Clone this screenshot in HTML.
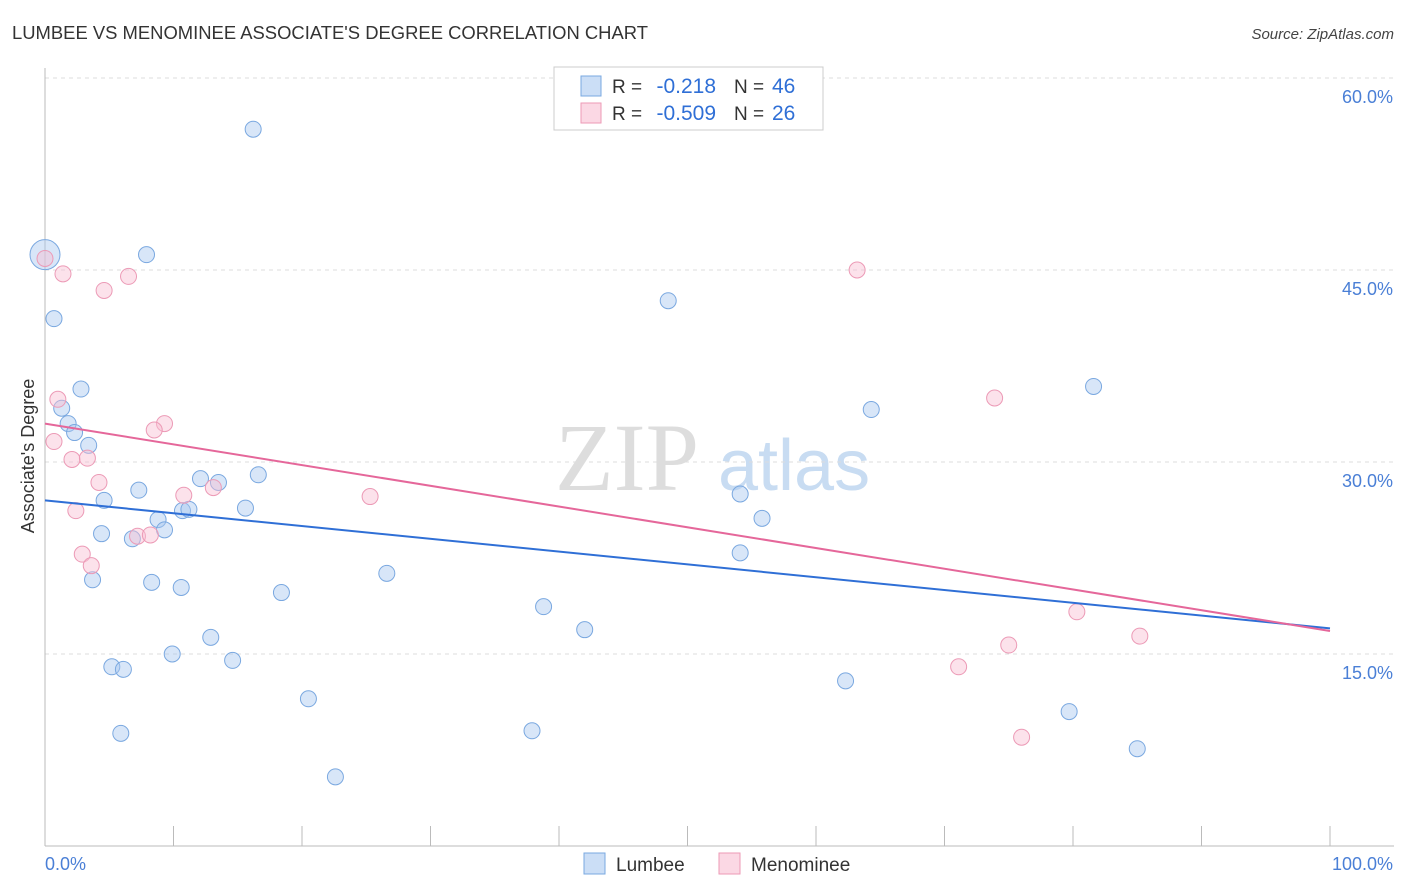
<!DOCTYPE html>
<html><head><meta charset="utf-8">
<style>
body{margin:0;background:#fff;font-family:"Liberation Sans",sans-serif;}
#wrap{position:relative;width:1406px;height:892px;overflow:hidden;}
</style></head>
<body>
<div id="wrap">
<svg id="svg" width="1406" height="892"></svg>
</div>
<script>
const lumbeeX=[0,16.2,7.9,0.7,48.5,2.8,1.3,1.8,2.3,3.4,81.6,64.3,7.3,4.6,12.1,13.5,16.6,15.6,10.7,11.2,8.8,9.3,6.8,4.4,54.1,55.8,54.1,3.7,8.3,10.6,26.6,18.4,38.8,42.0,12.9,9.9,14.6,5.2,6.1,62.3,20.5,79.7,5.9,37.9,22.6,85.0];
const lumbeeY=[46.2,56.0,46.2,41.2,42.6,35.7,34.2,33.0,32.3,31.3,35.9,34.1,27.8,27.0,28.7,28.4,29.0,26.4,26.2,26.3,25.5,24.7,24.0,24.4,27.5,25.6,22.9,20.8,20.6,20.2,21.3,19.8,18.7,16.9,16.3,15.0,14.5,14.0,13.8,12.9,11.5,10.5,8.8,9.0,5.4,7.6];
const menX=[0,1.4,6.5,4.6,63.2,1.0,0.7,9.3,8.5,2.1,3.3,73.9,4.2,10.8,13.1,25.3,2.4,7.2,8.2,2.9,3.6,80.3,85.2,75.0,71.1,76.0];
const menY=[45.9,44.7,44.5,43.4,45.0,34.9,31.6,33.0,32.5,30.2,30.3,35.0,28.4,27.4,28.0,27.3,26.2,24.2,24.3,22.8,21.9,18.3,16.4,15.7,14.0,8.5];
const lumbeeTrend=[[0,27.0],[100,17.0]];
const menTrend=[[0,33.0],[100,16.8]];
const yTicks=[15,30,45,60];
const yTickLabels=["15.0%","30.0%","45.0%","60.0%"];

const NS="http://www.w3.org/2000/svg";
const svg=document.getElementById('svg');
const X=v=>45+v*12.85;
const Y=v=>846-v*12.8;
function el(t,a,p){const e=document.createElementNS(NS,t);for(const k in a)e.setAttribute(k,a[k]);(p||svg).appendChild(e);return e;}
function txt(s,a){const e=el('text',a);e.textContent=s;return e;}

let t=txt("LUMBEE VS MENOMINEE ASSOCIATE'S DEGREE CORRELATION CHART",{x:12,y:39,'font-size':18,fill:'#333',textLength:636,lengthAdjust:'spacingAndGlyphs'});

t=txt("Source: ZipAtlas.com",{x:1394,y:39,'font-size':15,fill:'#444','font-style':'italic','text-anchor':'end'});


t=txt("ZIP",{x:555,y:490,'font-size':96,fill:'#ddd','font-family':'Liberation Serif,serif'});

t=txt("atlas",{x:718,y:490,'font-size':72,fill:'#c8dcf2'});


yTicks.forEach((v,i)=>{
 const g=el('line',{x1:45,x2:1394,y1:Y(v),y2:Y(v),stroke:'#ddd','stroke-dasharray':'4,4'});
 
 const l=txt(yTickLabels[i],{x:1393,y:Y(v)+25,'font-size':18,fill:'#4a7fd6','text-anchor':'end'});
 
});
let a=el('line',{x1:45,x2:45,y1:68,y2:846,stroke:'#bbb'});
a=el('line',{x1:45,x2:1394,y1:846,y2:846,stroke:'#bbb'});
for(let i=0;i<=10;i++){const k=el('line',{x1:X(i*10),x2:X(i*10),y1:826,y2:846,stroke:'#bbb'});}
t=txt("0.0%",{x:45,y:870,'font-size':18,fill:'#4a7fd6'});
t=txt("100.0%",{x:1393,y:870,'font-size':18,fill:'#4a7fd6','text-anchor':'end'});
t=txt("Associate's Degree",{x:0,y:0,'font-size':18,fill:'#333','text-anchor':'middle',transform:'translate(34,456) rotate(-90)'});


lumbeeX.forEach((x,i)=>{const c=el('circle',{cx:X(x),cy:Y(lumbeeY[i]),r:i==0?15:8,fill:'rgba(168,200,240,0.45)',stroke:'#7aa8e0','stroke-width':1});
 });
menX.forEach((x,i)=>{const c=el('circle',{cx:X(x),cy:Y(menY[i]),r:8,fill:'rgba(248,190,210,0.45)',stroke:'#ec9ab6','stroke-width':1});
 });
let l=el('line',{x1:X(lumbeeTrend[0][0]),y1:Y(lumbeeTrend[0][1]),x2:X(lumbeeTrend[1][0]),y2:Y(lumbeeTrend[1][1]),stroke:'#2f6fd6','stroke-width':2});

l=el('line',{x1:X(menTrend[0][0]),y1:Y(menTrend[0][1]),x2:X(menTrend[1][0]),y2:Y(menTrend[1][1]),stroke:'#e5679a','stroke-width':2});


let r=el('rect',{x:554,y:67,width:269,height:63,fill:'#fff',stroke:'#ccc'});
[[86,'rgba(168,200,240,0.6)','#7aa8e0','-0.218','46'],[113,'rgba(248,190,210,0.6)','#ec9ab6','-0.509','26']].forEach(d=>{
 const s=el('rect',{x:581,y:d[0]-10,width:20,height:20,fill:d[1],stroke:d[2]});
 let q=txt("R = ",{x:612,y:d[0]+7,'font-size':19,fill:'#333'});
 q=txt(d[3],{x:716,y:d[0]+7,'font-size':21,fill:'#2f6fd6','text-anchor':'end'});
 q=txt("N = ",{x:734,y:d[0]+7,'font-size':19,fill:'#333'});
 q=txt(d[4],{x:772,y:d[0]+7,'font-size':21,fill:'#2f6fd6'});
});
[[584,'rgba(168,200,240,0.6)','#7aa8e0','Lumbee'],[719,'rgba(248,190,210,0.6)','#ec9ab6','Menominee']].forEach(d=>{
 const s=el('rect',{x:d[0],y:853,width:21,height:21,fill:d[1],stroke:d[2]});
 const q=txt(d[3],{x:d[0]+32,y:871,'font-size':19,fill:'#333'});
});
</script>
</body></html>
